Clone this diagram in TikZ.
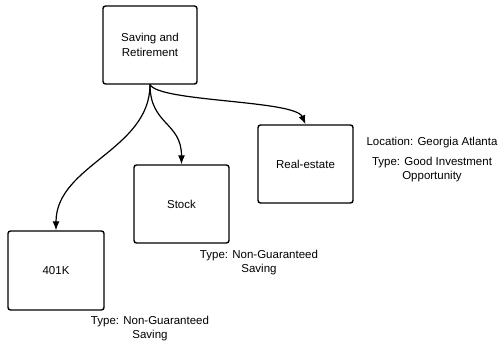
\documentclass[tikz,border=0pt]{standalone}
\usepackage{fontspec}
\setmainfont{Liberation Sans}
\usetikzlibrary{arrows.meta}
\begin{document}
\begin{tikzpicture}[x=1pt,y=-1pt,
  box/.style={draw, line width=1.4pt, rounded corners=2.5pt, minimum width=94pt, minimum height=78pt, inner sep=0pt, align=center, font=\fontsize{11.5}{14.5}\selectfont},
  lbl/.style={align=center, inner sep=0pt, font=\fontsize{11.5}{14}\selectfont},
  conn/.style={line width=1.2pt, -{Latex[length=9pt,width=7pt]}}]
\useasboundingbox (0,0) rectangle (499,343);
\node[box] (top) at (150,45) {Saving and\\Retirement};
\node[box, minimum width=95pt, minimum height=78pt] (re) at (305.5,164) {Real-estate};
\node[box, minimum width=95pt, minimum height=78pt] (st) at (181.5,204) {Stock};
\node[box, minimum width=96pt, minimum height=79pt] (k) at (56,270.5) {401K};
\coordinate (s) at (150,84.5);
\draw[conn] (s) .. controls (150,150) and (56,165) .. (k.north);
\draw[conn] (s) .. controls (150,125) and (181.5,122) .. (st.north);
\draw[conn] (s) .. controls (158,102) and (295,100) .. (re.north);
\node[lbl] (loc) at (432,143) {Location: Georgia Atlanta};
\node[lbl] (ret) at (432,170) {Type: Good Investment\\Opportunity};
\node[lbl] (stt) at (259,263) {Type: Non-Guaranteed\\Saving};
\node[lbl] (kt) at (150,328.5) {Type: Non-Guaranteed\\Saving};
\end{tikzpicture}
\end{document}
